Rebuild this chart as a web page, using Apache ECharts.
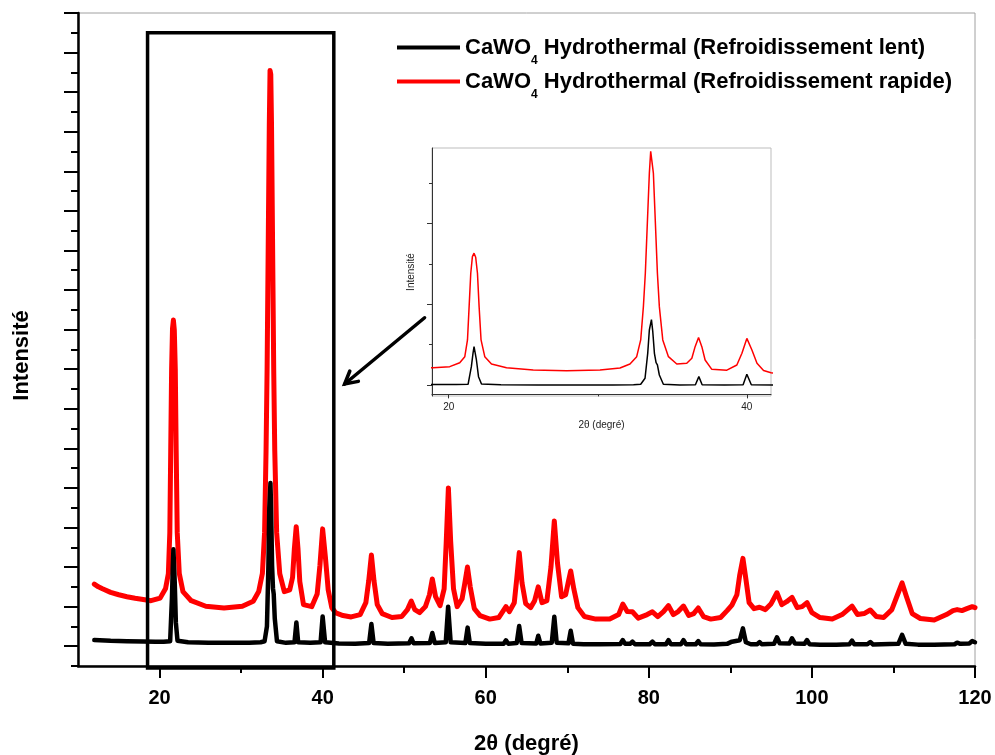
<!DOCTYPE html>
<html>
<head>
<meta charset="utf-8">
<script src="https://cdn.jsdelivr.net/npm/echarts@6/dist/echarts.min.js"></script>
<style>
  html, body { margin: 0; padding: 0; background: #ffffff; }
  #chart { width: 995px; height: 755px; }
</style>
</head>
<body>
<div id="chart"></div>
<script>
// XRD patterns of hydrothermal CaWO4: [2θ (°), intensity (a.u.)]
const slowCooling = [
  [12.0,1.31],[14.0,1.27],[16.0,1.25],[18.0,1.24],[19.5,1.22],[20.5,1.22],
  [21.30,1.25],[21.52,3.43],[21.63,5.08],[21.70,5.9],[21.86,4.26],[22.0,2.19],[22.2,1.28],
  [23.5,1.2],[26,1.17],[29,1.17],[31,1.17],[32.4,1.2],
  [32.88,1.25],[33.17,2.0],[33.35,5.08],[33.46,7.97],[33.6,9.25],[33.69,7.76],[33.8,5.08],
  [33.91,3.92],[34.0,3.64],[34.13,2.4],[34.4,1.25],
  [35.5,1.17],[36.55,1.2],[36.78,2.2],[37.0,1.2],[38.5,1.17],[39.75,1.2],[40.0,2.5],[40.3,1.2],
  [42,1.14],[44,1.13],[45.7,1.16],[45.98,2.12],[46.25,1.16],[48,1.12],
  [50.6,1.15],[50.9,1.40],[51.15,1.15],[53.15,1.16],[53.45,1.67],[53.75,1.16],
  [55.1,1.2],[55.39,3.0],[55.7,1.2],[57.5,1.16],[57.78,1.94],[58.05,1.16],
  [60,1.12],[62.2,1.13],[62.48,1.3],[62.75,1.13],[63.8,1.16],[64.1,2.02],[64.4,1.16],
  [66.2,1.14],[66.44,1.53],[66.7,1.14],[68.1,1.18],[68.41,2.49],[68.7,1.18],
  [70.15,1.15],[70.42,1.78],[70.7,1.13],[72,1.1],[74,1.1],
  [76.5,1.11],[76.81,1.31],[77.1,1.12],[77.7,1.12],[77.99,1.23],[78.3,1.1],
  [80.1,1.1],[80.44,1.23],[80.75,1.1],[82.1,1.1],[82.41,1.31],[82.7,1.1],
  [83.95,1.1],[84.25,1.31],[84.55,1.1],[85.75,1.1],[86.06,1.26],[86.35,1.1],
  [88,1.09],[89.6,1.12],[90.19,1.23],[91.15,1.3],[91.54,1.9],[91.9,1.2],[92.5,1.1],
  [93.3,1.1],[93.58,1.21],[93.85,1.1],[95.35,1.12],[95.71,1.45],[96.05,1.15],
  [97.25,1.14],[97.56,1.40],[97.9,1.14],[99.1,1.12],[99.4,1.31],[99.7,1.1],
  [101,1.08],[103,1.08],[104.6,1.1],[104.92,1.28],[105.2,1.1],
  [106.8,1.1],[107.16,1.21],[107.5,1.09],[110.6,1.12],[111.06,1.57],[111.5,1.12],
  [113,1.08],[115,1.08],[117.5,1.1],[117.81,1.18],[118.2,1.12],[119.3,1.14],[119.66,1.26],[120,1.2]
];

const fastCooling = [
  [12.0,4.14],[12.5,4.0],[13,3.9],[14,3.72],[15,3.6],[16,3.5],[17,3.42],[18,3.36],
  [18.95,3.30],[20.07,3.43],[20.74,3.92],[21.08,4.67],[21.26,6.74],[21.37,10.86],
  [21.48,15.0],[21.59,17.06],[21.70,17.48],[21.81,16.98],[21.93,15.0],[22.04,10.86],
  [22.17,6.74],[22.42,4.67],[22.87,3.76],[23.88,3.30],[25.67,3.02],[27.91,2.93],
  [30.15,3.02],[31.49,3.27],[32.16,3.76],[32.61,4.67],[32.88,6.74],[33.06,10.86],
  [33.19,15.0],[33.28,19.13],[33.37,23.25],[33.46,27.39],[33.55,30.1],[33.64,29.9],
  [33.73,27.39],[33.82,23.25],[33.91,19.13],[34.0,15.0],[34.13,10.86],[34.36,6.74],
  [34.74,4.67],[35.30,3.76],[35.97,3.85],[36.31,4.47],[36.53,5.91],[36.76,7.04],
  [36.98,5.91],[37.2,4.26],[37.65,3.1],[38.66,3.0],[39.33,3.64],[39.67,5.09],
  [40.0,6.93],[40.34,5.5],[40.68,3.85],[41.12,2.95],[41.62,2.68],
  [42.5,2.55],[43.5,2.48],[44.6,2.6],[45.3,3.2],[45.65,4.3],[45.98,5.61],[46.3,4.3],
  [46.7,3.1],[47.3,2.65],[48.5,2.45],[49.7,2.5],[50.4,2.85],[50.87,3.28],[51.3,2.85],
  [51.9,2.7],[52.6,3.0],[53.1,3.6],[53.45,4.4],[53.85,3.5],[54.4,3.05],[54.9,3.9],
  [55.15,6.2],[55.42,9.0],[55.7,6.3],[56.05,3.9],[56.5,3.0],[57.1,3.4],[57.4,4.1],
  [57.76,5.0],[58.1,4.0],[58.6,2.9],[59.3,2.55],[60.5,2.37],[61.6,2.45],[62.48,3.0],
  [62.9,2.75],[63.5,3.2],[63.8,4.4],[64.11,5.73],[64.45,4.2],[64.9,3.15],[65.5,2.95],
  [66.0,3.3],[66.44,4.0],[66.9,3.2],[67.5,3.3],[68.0,5.0],[68.41,7.33],[68.8,5.2],
  [69.3,3.5],[69.8,3.6],[70.1,4.2],[70.42,4.8],[70.8,3.9],[71.3,2.95],[72.1,2.5],
  [73.5,2.37],[75.2,2.37],[76.3,2.6],[76.81,3.13],[77.35,2.75],[77.99,2.74],[78.7,2.42],
  [79.8,2.6],[80.44,2.74],[81.1,2.5],[81.8,2.75],[82.41,3.05],[83.0,2.6],[83.6,2.75],
  [84.25,3.03],[84.9,2.55],[85.5,2.65],[86.06,2.93],[86.7,2.5],[87.6,2.37],[88.8,2.45],
  [89.6,2.8],[90.19,3.08],[90.8,3.6],[91.15,4.6],[91.54,5.44],[91.9,4.4],[92.3,3.2],
  [92.9,2.9],[93.58,2.97],[94.3,2.85],[95.0,3.15],[95.71,3.7],[96.3,3.1],[96.9,3.25],
  [97.56,3.47],[98.2,2.95],[98.8,3.0],[99.4,3.2],[100,2.7],[101,2.45],[102.5,2.37],
  [103.7,2.6],[104.92,3.03],[105.6,2.6],[106.4,2.65],[107.16,2.83],[107.9,2.5],
  [108.8,2.45],[109.8,2.85],[110.5,3.6],[111.06,4.2],[111.6,3.5],[112.3,2.65],
  [113.3,2.4],[115,2.32],[116.5,2.6],[117.3,2.8],[117.81,2.85],[118.4,2.8],[119.0,2.9],
  [119.66,3.0],[120,2.95]
];

const seriesNames = [
  'CaWO4 Hydrothermal (Refroidissement lent)',
  'CaWO4 Hydrothermal (Refroidissement rapide)'
];

// Axis ranges and tick positions
const xRange = [10, 120];
const yRange = [0, 33];
const xMajorTicks = [20, 40, 60, 80, 100, 120];
const xMinorTicks = [30, 50, 70, 90, 110];
const yMajorTicks = [1, 3, 5, 7, 9, 11, 13, 15, 17, 19, 21, 23, 25, 27, 29, 31, 33];
const yMinorTicks = [0, 2, 4, 6, 8, 10, 12, 14, 16, 18, 20, 22, 24, 26, 28, 30, 32];

// Enlarged view of the low-angle region
const insetXRange = [18.88, 41.62];
const insetYRange = [-0.2, 30.5];
const insetXMajor = [20, 40];
const insetXMinor = [30];
const insetYMajor = [1.15, 11.15, 21.15];
const insetYMinor = [6.15, 16.15, 26.15];

// Frame around the enlarged region and pointer towards it (data coordinates)
const zoomFrame = { x: [18.53, 41.37], y: [-0.1, 32.0] };
const pointer = { from: [52.5, 17.6], to: [42.7, 14.25] };

const FONT = '"Liberation Sans", Arial, Helvetica, sans-serif';

const chart = echarts.init(document.getElementById('chart'), null, { renderer: 'canvas' });

const legendRich = {
  a: { fontFamily: FONT, fontSize: 22, fontWeight: 'bold', color: '#000', lineHeight: 24 },
  s: { fontFamily: FONT, fontSize: 12, fontWeight: 'bold', color: '#000', lineHeight: 10, padding: [27, 0, 0, 0] }
};

function hiddenTickAxis(base) {
  return Object.assign({
    axisLine: { show: false },
    axisLabel: { show: false },
    splitLine: { show: false }
  }, base);
}

chart.setOption({
  animation: false,
  backgroundColor: '#ffffff',
  grid: [
    { left: 78, right: 20, top: 13, bottom: 89, outerBoundsMode: 'none', containLabel: false,
      show: true, borderColor: '#a0a0a0', borderWidth: 1, backgroundColor: 'transparent' },
    { left: 432, top: 148, width: 339, height: 248, outerBoundsMode: 'none', containLabel: false,
      show: true, borderColor: '#bdbdbd', borderWidth: 1, backgroundColor: '#ffffff' }
  ],
  legend: {
    data: seriesNames,
    orient: 'vertical',
    left: 392,
    top: 23,
    itemWidth: 63,
    itemHeight: 4,
    itemGap: -5,
    icon: 'rect',
    selectedMode: false,
    formatter: function (name) {
      return '{a|CaWO}{s|4}{a|' + name.slice(5) + '}';
    },
    textStyle: { rich: legendRich }
  },
  xAxis: [
    {
      type: 'value', gridIndex: 0, position: 'bottom', min: xRange[0], max: xRange[1],
      name: '2θ (degré)', nameLocation: 'middle', nameGap: 67,
      nameTextStyle: { fontFamily: FONT, fontSize: 22, fontWeight: 'bold', color: '#000' },
      axisLine: { lineStyle: { color: '#000', width: 2.5 } },
      axisTick: { customValues: xMajorTicks, length: 12, lineStyle: { color: '#000', width: 2 } },
      axisLabel: { customValues: xMajorTicks, margin: 22, fontFamily: FONT, fontSize: 20, fontWeight: 'bold', color: '#000' },
      splitLine: { show: false }
    },
    hiddenTickAxis({
      type: 'value', gridIndex: 0, position: 'bottom', min: xRange[0], max: xRange[1],
      axisTick: { customValues: xMinorTicks, length: 7, lineStyle: { color: '#000', width: 2 } }
    }),
    {
      type: 'value', gridIndex: 1, position: 'bottom', min: insetXRange[0], max: insetXRange[1],
      name: '2θ (degré)', nameLocation: 'middle', nameGap: 24,
      nameTextStyle: { fontFamily: FONT, fontSize: 10, color: '#222' },
      axisLine: { lineStyle: { color: '#333', width: 1 } },
      axisTick: { customValues: insetXMajor, length: 4, lineStyle: { color: '#333', width: 1 } },
      axisLabel: { customValues: insetXMajor, margin: 6, fontFamily: FONT, fontSize: 10, color: '#222' },
      splitLine: { show: false }
    },
    hiddenTickAxis({
      type: 'value', gridIndex: 1, position: 'bottom', min: insetXRange[0], max: insetXRange[1],
      axisTick: { customValues: insetXMinor, length: 2, lineStyle: { color: '#333', width: 1 } }
    })
  ],
  yAxis: [
    {
      type: 'value', gridIndex: 0, position: 'left', min: yRange[0], max: yRange[1],
      name: 'Intensité', nameLocation: 'middle', nameGap: 45,
      nameTextStyle: { fontFamily: FONT, fontSize: 22, fontWeight: 'bold', color: '#000', padding: [0, 32, 0, 0] },
      axisLine: { lineStyle: { color: '#000', width: 2.5 } },
      axisTick: { customValues: yMajorTicks, length: 14, lineStyle: { color: '#000', width: 2 } },
      axisLabel: { show: false },
      splitLine: { show: false }
    },
    hiddenTickAxis({
      type: 'value', gridIndex: 0, position: 'left', min: yRange[0], max: yRange[1],
      axisTick: { customValues: yMinorTicks, length: 7, lineStyle: { color: '#000', width: 2 } }
    }),
    {
      type: 'value', gridIndex: 1, position: 'left', min: insetYRange[0], max: insetYRange[1],
      name: 'Intensité', nameLocation: 'middle', nameGap: 16,
      nameTextStyle: { fontFamily: FONT, fontSize: 10, color: '#222' },
      axisLine: { lineStyle: { color: '#333', width: 1 } },
      axisTick: { customValues: insetYMajor, length: 5, lineStyle: { color: '#333', width: 1 } },
      axisLabel: { show: false },
      splitLine: { show: false }
    },
    hiddenTickAxis({
      type: 'value', gridIndex: 1, position: 'left', min: insetYRange[0], max: insetYRange[1],
      axisTick: { customValues: insetYMinor, length: 3, lineStyle: { color: '#333', width: 1 } }
    })
  ],
  series: [
    {
      name: seriesNames[1], type: 'line', xAxisIndex: 0, yAxisIndex: 0, data: fastCooling,
      showSymbol: false, color: '#ff0000', lineStyle: { width: 5, join: 'round', cap: 'round' }, z: 2
    },
    {
      name: seriesNames[0], type: 'line', xAxisIndex: 0, yAxisIndex: 0, data: slowCooling,
      showSymbol: false, color: '#000000', lineStyle: { width: 4.5, join: 'round', cap: 'round' }, z: 3
    },
    {
      name: seriesNames[1], type: 'line', xAxisIndex: 2, yAxisIndex: 2, data: fastCooling,
      showSymbol: false, color: '#ff0000', lineStyle: { width: 1.5 }, z: 2
    },
    {
      name: seriesNames[0], type: 'line', xAxisIndex: 2, yAxisIndex: 2, data: slowCooling,
      showSymbol: false, color: '#000000', lineStyle: { width: 1.5 }, z: 3
    }
  ]
});

// Frame and pointer, placed through the main axes' scales
const toPx = (p) => chart.convertToPixel({ xAxisIndex: 0, yAxisIndex: 0 }, p);
const c1 = toPx([zoomFrame.x[0], zoomFrame.y[1]]);
const c2 = toPx([zoomFrame.x[1], zoomFrame.y[0]]);
const tail = toPx(pointer.from);
const head = toPx(pointer.to);
const dx = head[0] - tail[0], dy = head[1] - tail[1];
const len = Math.hypot(dx, dy);
const ux = dx / len, uy = dy / len;
const arm = 14, spread = 0.5;
function armPoint(sign) {
  const cos = Math.cos(sign * spread), sin = Math.sin(sign * spread);
  const bx = -ux, by = -uy;
  return [head[0] + arm * (bx * cos - by * sin), head[1] + arm * (bx * sin + by * cos)];
}

chart.setOption({
  graphic: [
    {
      type: 'rect', z: 100, silent: true,
      shape: { x: c1[0], y: c1[1], width: c2[0] - c1[0], height: c2[1] - c1[1] },
      style: { fill: 'none', stroke: '#000', lineWidth: 3.5 }
    },
    {
      type: 'line', z: 100, silent: true,
      shape: { x1: tail[0], y1: tail[1], x2: head[0], y2: head[1] },
      style: { stroke: '#000', lineWidth: 3.5, lineCap: 'round' }
    },
    {
      type: 'polyline', z: 100, silent: true,
      shape: { points: [armPoint(1), head, armPoint(-1)] },
      style: { stroke: '#000', lineWidth: 3.5, fill: 'none', lineCap: 'round', lineJoin: 'miter' }
    }
  ]
});
</script>
</body>
</html>
